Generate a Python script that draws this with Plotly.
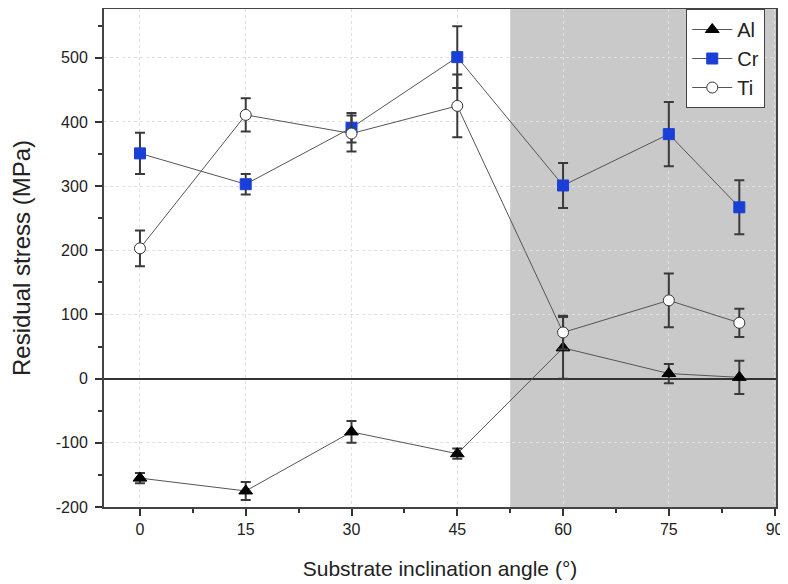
import plotly.graph_objects as go

angles = [0, 15, 30, 45, 60, 75, 85]

al_vals = [-155, -175, -83, -117, 48, 8, 2]
al_err = [8, 14, 17, 8, 48, 15, 26]

cr_vals = [351, 303, 391, 501, 301, 381, 267]
cr_err = [32, 16, 23, 48, 35, 50, 42]

ti_vals = [203, 411, 382, 425, 72, 122, 87]
ti_err = [28, 26, 28, 49, 26, 42, 22]

x_ticks = [0, 15, 30, 45, 60, 75, 90]
y_ticks = [-200, -100, 0, 100, 200, 300, 400, 500]
y_ticktext = ["-200", "-100", "0", "100", "200", "300", "400", "500"]

shade_start = 52.5
x_range = [-5.1, 90.2]
y_range = [-200, 576]

line_col = "#555555"
err_col = "#3a3a3a"

fig = go.Figure()

def add(name, vals, err, symbol, fill, edge, size):
    fig.add_trace(go.Scatter(
        x=angles, y=vals, name=name, mode="lines+markers",
        line=dict(color=line_col, width=1),
        marker=dict(symbol=symbol, size=size, color=fill,
                    line=dict(color=edge, width=1)),
        error_y=dict(type="data", array=err, visible=True,
                     color=err_col, thickness=2, width=5),
    ))

add("Al", al_vals, al_err, "triangle-up", "black", "black", 12)
add("Cr", cr_vals, cr_err, "square", "#1a3fd6", "#1a3fd6", 11)
add("Ti", ti_vals, ti_err, "circle", "white", "#333333", 11)

fig.add_shape(type="rect", xref="x", yref="paper", x0=shade_start, x1=x_range[1],
              y0=0, y1=1, fillcolor="#c9c9c9", line=dict(width=0), layer="below")

# page body has an 8px default margin, so the figure is sized to fit the window
fig.update_layout(
    width=780, height=576,
    margin=dict(l=96, r=12, t=1, b=77),
    paper_bgcolor="white", plot_bgcolor="white",
    font=dict(family="Liberation Sans, Arial, sans-serif", color="#222222", size=15),
    showlegend=True,
    legend=dict(x=0.984, y=1.0, xanchor="right", yanchor="top",
                bgcolor="white", bordercolor="#444444", borderwidth=1,
                font=dict(size=20), tracegroupgap=0, itemwidth=40),
)

fig.update_xaxes(
    range=x_range, tickvals=x_ticks, ticks="outside", ticklen=7, tickwidth=1.5,
    tickcolor="#333", showline=True, linecolor="#444", linewidth=2, mirror=True,
    showgrid=True, gridcolor="#e0e0e0", griddash="dot", gridwidth=1,
    zeroline=False, automargin=False,
    minor=dict(ticks="outside", ticklen=4, dtick=7.5, tick0=0, tickcolor="#333", showgrid=False),
    title=dict(text="Substrate inclination angle (°)", font=dict(size=21), standoff=24),
    tickfont=dict(size=16),
)
fig.update_yaxes(
    range=y_range, tickvals=y_ticks, ticktext=y_ticktext, ticks="outside", ticklen=7,
    tickwidth=1.5, tickcolor="#333", showline=True, linecolor="#444", linewidth=2,
    mirror=True, showgrid=True, gridcolor="#e0e0e0", griddash="dot", gridwidth=1,
    zeroline=True, zerolinecolor="#333333", zerolinewidth=2, automargin=False,
    ticklabelstandoff=4,
    minor=dict(ticks="outside", ticklen=4, dtick=50, tick0=0, tickcolor="#333", showgrid=False),
    title=dict(text="Residual stress (MPa)", font=dict(size=24), standoff=18),
    tickfont=dict(size=16),
)

fig.write_html("out.html")
